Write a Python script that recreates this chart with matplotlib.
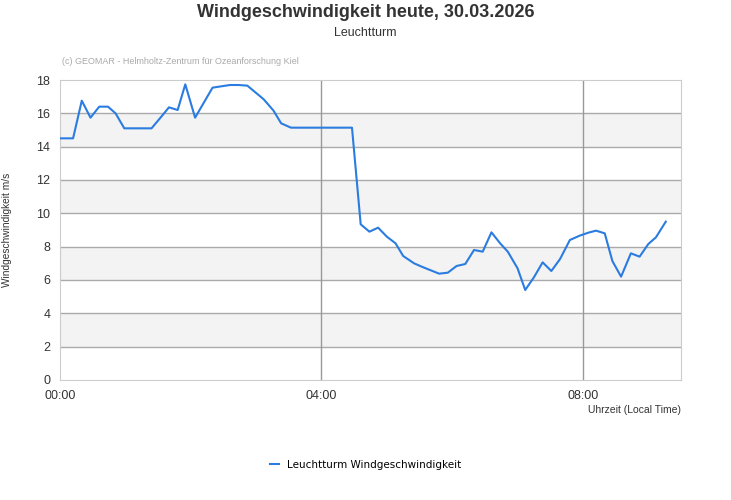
import matplotlib.pyplot as plt

# Wind speed readings (minutes after midnight, m/s)
minutes = [0, 12, 20, 28, 36, 44, 51, 59, 84, 93, 100, 108, 115, 124, 140, 156,
           164, 172, 187, 196, 203, 212, 268, 276, 284, 292, 300, 308, 315, 325,
           332, 348, 356, 364, 372, 380, 388, 396, 404, 411, 420, 427, 435, 443,
           451, 459, 468, 477, 485, 492, 500, 507, 515, 524, 532, 540, 547, 556]
speed = [14.5, 14.5, 16.76, 15.74, 16.4, 16.4, 16.0, 15.1, 15.1, 15.8, 16.36, 16.2,
         17.74, 15.74, 17.54, 17.7, 17.7, 17.66, 16.84, 16.16, 15.4, 15.14, 15.14,
         9.34, 8.9, 9.14, 8.6, 8.2, 7.44, 7.0, 6.8, 6.38, 6.44, 6.84, 6.96, 7.8,
         7.7, 8.86, 8.2, 7.7, 6.7, 5.4, 6.16, 7.06, 6.54, 7.26, 8.4, 8.66, 8.84,
         8.96, 8.8, 7.14, 6.2, 7.6, 7.4, 8.16, 8.56, 9.5]

tick_pos = [0, 240, 480]
tick_labels = ["00:00", "04:00", "08:00"]
y_ticks = list(range(0, 19, 2))

plt.rcParams['font.family'] = ['Liberation Sans', 'DejaVu Sans']

fig = plt.figure(figsize=(7.31, 5.0), dpi=100)
ax = fig.add_axes([60 / 731, 120 / 500, 621 / 731, 300 / 500])

# alternating bands
for lo in [2, 6, 10, 14]:
    ax.axhspan(lo, lo + 2, color='#f3f3f3', zorder=0, lw=0)
for y in y_ticks[1:-1]:
    ax.axhline(y, color='#aaaaaa', lw=1, zorder=1)
for x in tick_pos[1:]:
    ax.axvline(x, color='#999999', lw=1, zorder=1)

ax.plot(minutes, speed, color='#2b7ce0', lw=1.5, zorder=3,
        label='Leuchtturm Windgeschwindigkeit')

ax.set_xlim(0, 570)
ax.set_ylim(0, 18)
ax.set_xticks(tick_pos)
ax.set_xticklabels(tick_labels)
ax.set_yticks(y_ticks)
ax.tick_params(length=0, labelsize=9, colors='#333333', pad=7)
for s in ax.spines.values():
    s.set_color('#cccccc')

ax.set_ylabel('Windgeschwindigkeit m/s', fontsize=7.3, color='#333333', va='center')
ax.yaxis.set_label_coords(-0.085, 0.5)
ax.text(1.0, -0.083, 'Uhrzeit (Local Time)', transform=ax.transAxes,
        ha='right', va='top', fontsize=7.5, color='#333333')
ax.text(0.003, 1.045, '(c) GEOMAR - Helmholtz-Zentrum f\u00fcr Ozeanforschung Kiel',
        transform=ax.transAxes, ha='left', va='bottom', fontsize=6.5, color='#aaaaaa')

fig.text(0.5, 0.975, 'Windgeschwindigkeit heute, 30.03.2026', ha='center', va='center',
         fontsize=13, fontweight='bold', color='#333333')
fig.text(0.5, 0.933, 'Leuchtturm', ha='center', va='center', fontsize=9, color='#333333')

fig.legend(loc='center', bbox_to_anchor=(0.5, 0.07), frameon=False,
           prop={'family': 'DejaVu Sans', 'size': 7.5}, handlelength=0.9)

fig.savefig('out.png', dpi=100)
